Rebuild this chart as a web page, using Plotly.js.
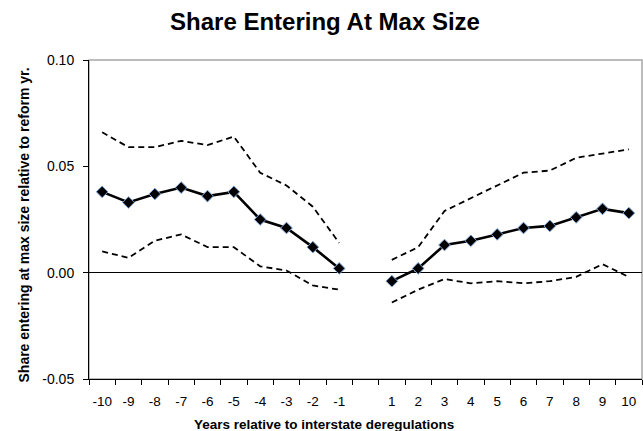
<!DOCTYPE html>
<html>
<head>
<meta charset="utf-8">
<script src="https://cdn.plot.ly/plotly-3.0.1.min.js"></script>
<style>html,body{margin:0;padding:0;background:#fff;}#chart{width:643px;height:431px;}</style>
</head>
<body>
<div id="chart"></div>
<script>
const xLabels = ['-10','-9','-8','-7','-6','-5','-4','-3','-2','-1',' ','1','2','3','4','5','6','7','8','9','10'];
const meanVals  = [0.038,0.033,0.037,0.040,0.036,0.038,0.025,0.021,0.012,0.002,null,-0.004,0.002,0.013,0.015,0.018,0.021,0.022,0.026,0.030,0.028];
const upperVals = [0.066,0.059,0.059,0.062,0.060,0.064,0.047,0.041,0.031,0.014,null,0.006,0.012,0.029,0.035,0.041,0.047,0.048,0.054,0.056,0.058];
const lowerVals = [0.010,0.007,0.015,0.018,0.012,0.012,0.003,0.001,-0.006,-0.008,null,-0.014,-0.008,-0.003,-0.005,-0.004,-0.005,-0.004,-0.002,0.004,-0.002];
const yTickVals = [-0.05,0,0.05,0.10];
const yTickText = ['-0.05','0.00','0.05','0.10'];

const FONT = 'Liberation Sans, Arial, sans-serif';

const traces = [
  {x: xLabels, y: upperVals, type: 'scatter', mode: 'lines', connectgaps: false,
   line: {color: '#000', width: 1.8, dash: '6px,4px'}, hoverinfo: 'skip'},
  {x: xLabels, y: lowerVals, type: 'scatter', mode: 'lines', connectgaps: false,
   line: {color: '#000', width: 1.8, dash: '6px,4px'}, hoverinfo: 'skip'},
  {x: xLabels, y: meanVals, type: 'scatter', mode: 'lines+markers', connectgaps: false,
   line: {color: '#000', width: 2.6},
   marker: {symbol: 'diamond', size: 9, color: '#000', line: {color: '#7ea6d8', width: 1}}}
];

const layout = {
  width: 643, height: 431,
  margin: {l: 89, r: 1, t: 60, b: 52},
  paper_bgcolor: '#fff', plot_bgcolor: '#fff',
  showlegend: false,
  font: {family: FONT, color: '#000', size: 14},
  title: {text: '<b>Share Entering At Max Size</b>', font: {family: FONT, size: 24, color: '#000'},
          x: 325/643, xref: 'container', xanchor: 'center', y: 1 - 22/431, yref: 'container', yanchor: 'middle'},
  xaxis: {
    type: 'category', categoryorder: 'array', categoryarray: xLabels,
    range: [-0.5, 20.5], tickson: 'boundaries', ticks: 'outside', ticklen: 5, tickcolor: '#000', tickwidth: 1,
    showline: true, linecolor: '#000', linewidth: 1, showgrid: false, zeroline: false,
    tickangle: 0, automargin: false,
    tickfont: {family: FONT, size: 13.5, color: '#000'}, ticklabelstandoff: 10, fixedrange: true
  },
  yaxis: {
    range: [-0.05, 0.10], tickvals: yTickVals, ticktext: yTickText,
    ticks: 'outside', ticklen: 5, tickcolor: '#000', tickwidth: 1,
    showline: true, linecolor: '#000', linewidth: 1, showgrid: false,
    zeroline: true, zerolinecolor: '#000', zerolinewidth: 1, automargin: false,
    tickfont: {family: FONT, size: 14, color: '#000'}, ticklabelstandoff: 6, fixedrange: true
  },
  shapes: [
    {type: 'rect', xref: 'paper', yref: 'paper', x0: 0, x1: 1, y0: 0, y1: 1,
     line: {color: '#a6a6a6', width: 1.5}, layer: 'below'}
  ],
  annotations: [
    {text: '<b>Share entering at max size relative to reform yr.</b>', xref: 'paper', yref: 'paper',
     x: 0, y: 0.5, xanchor: 'center', yanchor: 'middle', xshift: -66, yshift: -6, textangle: -90,
     showarrow: false, font: {family: FONT, size: 14, color: '#000'}},
    {text: '<b>Years relative to interstate deregulations</b>', xref: 'paper', yref: 'paper',
     x: 0, y: 0, xanchor: 'center', yanchor: 'middle', xshift: 235, yshift: -45,
     showarrow: false, font: {family: FONT, size: 13.5, color: '#000'}}
  ]
};

Plotly.newPlot('chart', traces, layout, {displayModeBar: false, staticPlot: true});
</script>
</body>
</html>
